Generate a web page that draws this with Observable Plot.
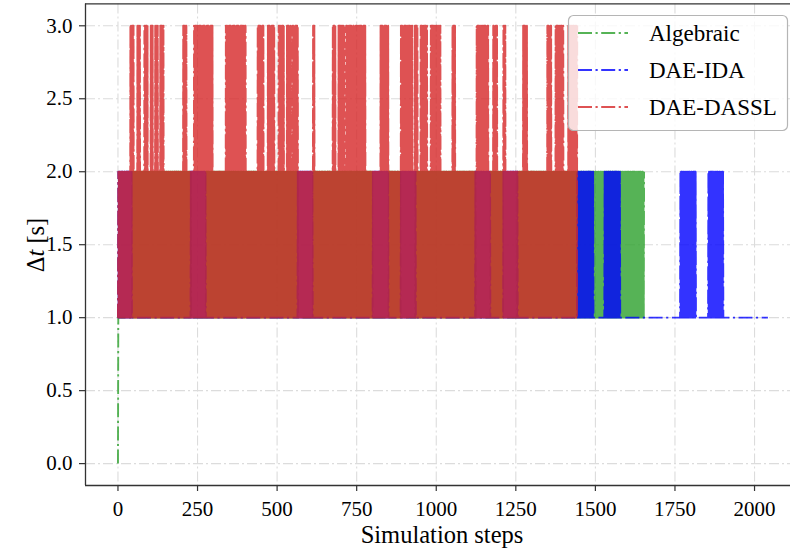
<!DOCTYPE html>
<html><head><meta charset="utf-8">
<script src="https://cdn.jsdelivr.net/npm/d3@7"></script>
<script src="https://cdn.jsdelivr.net/npm/@observablehq/plot@0.6"></script>
<style>
html,body{margin:0;padding:0;background:#fff;}
#chart{position:relative;width:790px;height:554px;overflow:hidden;}
</style></head><body><div id="chart"></div>
<script>
// ---- data ----
const seriesNames = ["Algebraic", "DAE-IDA", "DAE-DASSL"];
const seriesColors = ["#2ca02c", "#0000ff", "#d62728"];
const lastStep = [1653, 2042, 1443];      // last simulation step of each run
const firstValue = [0, 1, 1];             // Δt at step 0
// step ranges where Δt switches between 1 s and 2 s every step (otherwise 1 s)
const algebraicSwitching = [[44,229],[276,565],[612,800],[850,888],[935,1123],[1170,1210],[1255,1653]];
const idaSwitching = [[0,44],[229,276],[565,612],[800,850],[888,935],[1123,1170],[1210,1255],[1443,1493],[1528,1578],[1766,1816],[1854,1901]];
// DASSL switches 1 s / 2 s everywhere, and 1 s / 3 s in these ranges
const dasslSwitchingTo3 = [[38,50],[60,69],[82,94],[103,110],[116,125],[132,144],[204,216],[238,298],[339,401],[439,458],[470,492],[505,521],[530,543],[549,565],[612,618],[674,684],[693,700],[703,712],[716,741],[744,778],[825,850],[888,925],[932,941],[950,972],[982,1013],[1051,1060],[1126,1145],[1148,1164],[1179,1192],[1211,1217],[1273,1286],[1349,1361],[1374,1399],[1415,1443]];
const xTicks = [0, 250, 500, 750, 1000, 1250, 1500, 1750, 2000];
const yTicks = [0, 0.5, 1, 1.5, 2, 2.5, 3];

// ---- expand the step ranges into per-step rows ----
function expand(name, last, first, ranges, highInRange, highOutside) {
  const rows = [];
  for (let s = 0; s <= last; s++) {
    let v;
    if (s === 0) v = first;
    else {
      const inside = ranges.some(([a, b]) => s >= a && s <= b);
      const high = inside ? highInRange : highOutside;
      v = (s % 2) ? high : 1;
    }
    rows.push({series: name, step: s, dt: v});
  }
  return rows;
}
const algebraic = expand(seriesNames[0], lastStep[0], firstValue[0], algebraicSwitching, 2, 1);
const ida = expand(seriesNames[1], lastStep[1], firstValue[1], idaSwitching, 2, 1);
const dassl = expand(seriesNames[2], lastStep[2], firstValue[2], dasslSwitchingTo3, 3, 2);

const FONT = "'Liberation Serif', 'DejaVu Serif', serif";
const dash = "14,3.5,2.2,3.5";
const lineOpts = (color) => ({x: "step", y: "dt", stroke: color, strokeWidth: 1.9, strokeOpacity: 0.8,
  strokeDasharray: dash, strokeLinecap: "butt", strokeLinejoin: "round"});

const plot = Plot.plot({
  width: 790, height: 554,
  marginLeft: 85, marginRight: 0, marginTop: 3.4, marginBottom: 69,
  style: {fontFamily: FONT, fontSize: "21px", color: "black", background: "white"},
  x: {domain: [-102, 2113], ticks: xTicks},
  y: {domain: [-0.15, 3.15], ticks: yTicks},
  marks: [
    Plot.ruleX(xTicks, {stroke: "#dcdcdc", strokeWidth: 1.1, strokeDasharray: "10,3,2,3"}),
    Plot.ruleY(yTicks, {stroke: "#dcdcdc", strokeWidth: 1.1, strokeDasharray: "10,3,2,3"}),
    Plot.line(algebraic, lineOpts(seriesColors[0])),
    Plot.line(ida, lineOpts(seriesColors[1])),
    Plot.line(dassl, lineOpts(seriesColors[2])),
    Plot.axisX({ticks: xTicks, tickSize: 6, tickPadding: 10, fontSize: 21, strokeWidth: 1.2, stroke: "#333", label: null, tickFormat: d3.format("d")}),
    Plot.axisY({ticks: yTicks, tickSize: 6, tickPadding: 7, fontSize: 21, strokeWidth: 1.2, stroke: "#333", label: null, tickFormat: d3.format(".1f")}),
    Plot.ruleX([-102], {stroke: "#333", strokeWidth: 1.3}),
    Plot.ruleY([-0.15], {stroke: "#333", strokeWidth: 1.3}),
    Plot.ruleY([3.15], {stroke: "#333", strokeWidth: 1.3})
  ]
});
document.getElementById("chart").appendChild(plot);

const svg = d3.select(plot);
// axis labels
svg.append("text").attr("x", 442).attr("y", 543).attr("text-anchor", "middle")
  .attr("font-family", FONT).attr("font-size", 24.5).attr("fill", "black").text("Simulation steps");
const yl = svg.append("text").attr("transform", "translate(44,245) rotate(-90)").attr("text-anchor", "middle")
  .attr("font-family", FONT).attr("font-size", 24.5).attr("fill", "black");
yl.append("tspan").text("Δ");
yl.append("tspan").attr("font-style", "italic").text("t");
yl.append("tspan").text(" [s]");

// legend
const lg = svg.append("g");
lg.append("rect").attr("x", 568.5).attr("y", 15.5).attr("width", 219).attr("height", 115).attr("rx", 5)
  .attr("fill", "white").attr("fill-opacity", 0.8).attr("stroke", "#b5b5b5").attr("stroke-width", 1.2);
seriesNames.forEach((name, i) => {
  const y = 33 + i * 37;
  lg.append("line").attr("x1", 578).attr("x2", 628).attr("y1", y).attr("y2", y)
    .attr("stroke", seriesColors[i]).attr("stroke-opacity", 0.8).attr("stroke-width", 1.9).attr("stroke-dasharray", dash);
  lg.append("text").attr("x", 649).attr("y", y + 8).attr("text-anchor", "start").attr("font-family", FONT).attr("font-size", 23)
    .attr("fill", "black").text(name);
});
</script></body></html>
